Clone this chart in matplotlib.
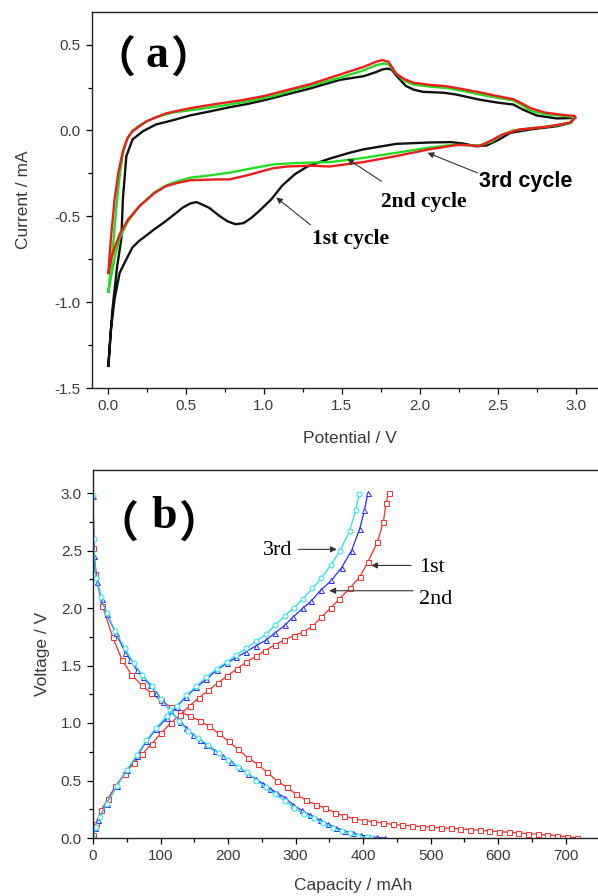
import matplotlib.pyplot as plt
from matplotlib.ticker import MultipleLocator, FormatStrFormatter

plt.rcParams['font.family'] = ['Liberation Sans', 'DejaVu Sans']
plt.rcParams['axes.unicode_minus'] = False

# ---- (a) cyclic voltammetry, closed loops (anodic sweep then cathodic sweep)
cv1_v = [0.005, 0.03, 0.06, 0.088, 0.098, 0.12, 0.16, 0.227, 0.31, 0.42, 0.53, 0.65, 0.78, 0.90,
         1.02, 1.17, 1.30, 1.42, 1.49, 1.64, 1.72, 1.76, 1.79, 1.82, 1.85, 1.91, 1.96, 2.02, 2.15,
         2.23, 2.38, 2.50, 2.60, 2.66, 2.75, 2.88, 2.96, 2.99, 2.97, 2.88, 2.71, 2.58, 2.51, 2.43,
         2.36, 2.28, 2.20, 2.06, 1.85, 1.64, 1.55, 1.42, 1.34, 1.28, 1.20, 1.12, 1.05, 0.97, 0.92,
         0.87, 0.82, 0.77, 0.72, 0.65, 0.57, 0.53, 0.48, 0.44, 0.355, 0.30, 0.25, 0.20, 0.16, 0.109,
         0.077, 0.045, 0.02, 0.005]
cv1_i = [-1.37, -1.05, -0.80, -0.63, -0.40, -0.15, -0.052, -0.004, 0.035, 0.06, 0.088, 0.11, 0.135,
         0.155, 0.18, 0.215, 0.245, 0.277, 0.295, 0.316, 0.34, 0.355, 0.36, 0.355, 0.32, 0.26, 0.238,
         0.225, 0.22, 0.21, 0.18, 0.162, 0.151, 0.122, 0.087, 0.07, 0.072, 0.075, 0.045, 0.025, 0.006,
         -0.014, -0.052, -0.087, -0.092, -0.076, -0.068, -0.07, -0.078, -0.11, -0.13, -0.165, -0.19,
         -0.21, -0.255, -0.32, -0.40, -0.47, -0.51, -0.54, -0.546, -0.53, -0.50, -0.45, -0.417, -0.425,
         -0.45, -0.48, -0.54, -0.575, -0.61, -0.645, -0.68, -0.77, -0.83, -0.98, -1.17, -1.37]

cv2_v = [0.005, 0.02, 0.04, 0.056, 0.075, 0.095, 0.12, 0.16, 0.205, 0.30, 0.42, 0.55, 0.74, 0.90,
         1.06, 1.20, 1.38, 1.50, 1.64, 1.72, 1.77, 1.80, 1.85, 1.90, 1.96, 2.07, 2.17, 2.28, 2.38,
         2.50, 2.60, 2.65, 2.71, 2.80, 2.92, 2.97, 2.99, 2.97, 2.88, 2.71, 2.60, 2.53, 2.46, 2.39,
         2.30, 2.20, 2.06, 1.85, 1.64, 1.42, 1.38, 1.20, 1.06, 0.90, 0.78, 0.65, 0.53, 0.45, 0.375,
         0.30, 0.205, 0.13, 0.08, 0.05, 0.025, 0.005]
cv2_i = [-0.94, -0.80, -0.62, -0.45, -0.28, -0.15, -0.06, 0.0, 0.03, 0.075, 0.105, 0.12, 0.145, 0.17,
         0.20, 0.235, 0.28, 0.31, 0.35, 0.38, 0.39, 0.385, 0.33, 0.29, 0.267, 0.255, 0.248, 0.23, 0.21,
         0.19, 0.175, 0.15, 0.115, 0.095, 0.085, 0.08, 0.07, 0.045, 0.03, 0.012, 0.0, -0.025, -0.065,
         -0.087, -0.085, -0.085, -0.10, -0.13, -0.16, -0.185, -0.185, -0.19, -0.198, -0.225, -0.246,
         -0.262, -0.275, -0.295, -0.32, -0.36, -0.44, -0.53, -0.62, -0.72, -0.84, -0.94]

cv3_v = [0.005, 0.015, 0.024, 0.045, 0.07, 0.098, 0.13, 0.16, 0.25, 0.375, 0.53, 0.70, 0.85, 1.0,
         1.17, 1.30, 1.49, 1.64, 1.72, 1.76, 1.80, 1.85, 1.90, 1.96, 2.07, 2.17, 2.28, 2.38, 2.50,
         2.60, 2.65, 2.71, 2.80, 2.92, 2.99, 3.0, 2.96, 2.81, 2.64, 2.53, 2.45, 2.38, 2.32, 2.25, 2.06,
         1.85, 1.64, 1.42, 1.30, 1.15, 1.06, 0.90, 0.78, 0.70, 0.53, 0.45, 0.375, 0.30, 0.205, 0.13,
         0.08, 0.05, 0.025, 0.005]
cv3_i = [-0.83, -0.70, -0.60, -0.40, -0.24, -0.12, -0.04, -0.005, 0.054, 0.10, 0.13, 0.155, 0.175,
         0.20, 0.24, 0.27, 0.326, 0.37, 0.40, 0.41, 0.40, 0.33, 0.30, 0.278, 0.265, 0.258, 0.24, 0.223,
         0.20, 0.182, 0.16, 0.13, 0.105, 0.09, 0.085, 0.075, 0.045, 0.021, 0.006, -0.023, -0.062,
         -0.091, -0.087, -0.083, -0.11, -0.149, -0.184, -0.21, -0.205, -0.21, -0.22, -0.26, -0.285,
         -0.285, -0.29, -0.305, -0.324, -0.365, -0.44, -0.52, -0.60, -0.67, -0.74, -0.83]

# ---- (b) charge / discharge profiles
d1_cap = [0, 3, 14, 29, 43, 57, 72, 86, 100, 115, 129, 143, 158, 172, 186, 201, 215, 229, 244, 258,
          272, 287, 301, 315, 330, 344, 358, 372, 387, 401, 415, 430, 444, 458, 473, 487, 501, 515,
          530, 544, 558, 573, 587, 601, 616, 630, 644, 659, 673, 687, 702, 716]
d1_v = [2.52, 2.30, 2.02, 1.75, 1.55, 1.42, 1.33, 1.26, 1.20, 1.14, 1.10, 1.06, 1.02, 0.97, 0.91,
        0.84, 0.77, 0.70, 0.64, 0.57, 0.50, 0.44, 0.38, 0.33, 0.29, 0.26, 0.22, 0.19, 0.168, 0.152,
        0.141, 0.129, 0.118, 0.111, 0.104, 0.098, 0.094, 0.089, 0.084, 0.079, 0.073, 0.067, 0.061,
        0.056, 0.050, 0.044, 0.038, 0.032, 0.026, 0.020, 0.012, 0.002]
c1_cap = [0, 4, 12, 22, 33, 47, 60, 73, 87, 101, 115, 129, 143, 157, 171, 185, 199, 213, 227, 241,
          255, 269, 283, 297, 311, 325, 338, 352, 365, 380, 395, 407, 421, 430, 434, 438]
c1_v = [0.03, 0.12, 0.24, 0.34, 0.45, 0.56, 0.65, 0.73, 0.82, 0.91, 1.00, 1.07, 1.15, 1.22, 1.285,
        1.35, 1.41, 1.47, 1.53, 1.58, 1.63, 1.68, 1.72, 1.76, 1.79, 1.84, 1.92, 2.00, 2.08, 2.17,
        2.27, 2.40, 2.57, 2.75, 2.91, 3.0]

d2_cap = [0, 2, 6, 13, 20, 34, 48, 55, 65, 74, 84, 94, 104, 114, 129, 138, 148, 158, 168, 180, 193,
          205, 217, 229, 242, 252, 262, 273, 284, 296, 309, 322, 336, 348, 360, 372, 385, 397, 410,
          421, 432]
d2_v = [2.97, 2.45, 2.23, 2.08, 1.95, 1.78, 1.61, 1.55, 1.46, 1.40, 1.33, 1.26, 1.18, 1.11, 1.01,
        0.96, 0.90, 0.85, 0.81, 0.76, 0.71, 0.66, 0.61, 0.56, 0.51, 0.47, 0.43, 0.39, 0.35, 0.29,
        0.24, 0.20, 0.157, 0.12, 0.09, 0.063, 0.04, 0.025, 0.012, 0.005, 0.0]
c2_cap = [0, 3, 8, 20, 35, 50, 65, 79, 94, 109, 124, 138, 153, 168, 183, 198, 212, 227, 241, 256,
          269, 284, 296, 311, 323, 338, 353, 368, 383, 395, 402, 407]
c2_v = [0.02, 0.09, 0.16, 0.30, 0.45, 0.59, 0.71, 0.84, 0.95, 1.04, 1.14, 1.23, 1.31, 1.38, 1.46,
        1.52, 1.57, 1.62, 1.67, 1.72, 1.78, 1.85, 1.92, 2.00, 2.06, 2.16, 2.24, 2.35, 2.50, 2.69,
        2.85, 3.0]

d3_cap = [0, 1, 4, 12, 20, 33, 47, 60, 73, 87, 100, 114, 127, 141, 155, 171, 186, 200, 214, 228,
          242, 256, 270, 285, 298, 312, 327, 341, 355, 368, 381, 393, 405, 412]
d3_v = [2.98, 2.60, 2.26, 2.10, 1.96, 1.80, 1.65, 1.52, 1.42, 1.32, 1.21, 1.11, 1.02, 0.93, 0.87,
        0.81, 0.74, 0.68, 0.62, 0.57, 0.50, 0.44, 0.38, 0.32, 0.26, 0.21, 0.17, 0.13, 0.09, 0.06,
        0.04, 0.02, 0.005, 0.0]
c3_cap = [0, 4, 10, 20, 35, 50, 65, 79, 94, 109, 124, 138, 153, 168, 183, 198, 212, 227, 241, 256,
          269, 284, 297, 311, 325, 338, 352, 366, 380, 389, 394]
c3_v = [0.0, 0.10, 0.18, 0.30, 0.45, 0.59, 0.72, 0.85, 0.96, 1.06, 1.15, 1.24, 1.32, 1.40, 1.47,
        1.53, 1.59, 1.65, 1.71, 1.77, 1.85, 1.93, 2.00, 2.08, 2.17, 2.26, 2.37, 2.50, 2.67, 2.85,
        2.99]

TICK_C = '#3a3a3a'
CJK = ['Noto Sans CJK SC', 'DejaVu Sans']


def style_axes(ax, xmaj, ymaj, xfmt, yfmt):
    ax.xaxis.set_major_locator(MultipleLocator(xmaj))
    ax.xaxis.set_minor_locator(MultipleLocator(xmaj / 2))
    ax.yaxis.set_major_locator(MultipleLocator(ymaj))
    ax.yaxis.set_minor_locator(MultipleLocator(ymaj / 2))
    ax.xaxis.set_major_formatter(FormatStrFormatter(xfmt))
    ax.yaxis.set_major_formatter(FormatStrFormatter(yfmt))
    ax.tick_params(which='both', direction='out', top=False, right=False,
                   labelsize=11, labelcolor=TICK_C, width=0.9)
    ax.tick_params(which='major', length=4.5)
    ax.tick_params(which='minor', length=3)
    for s in ax.spines.values():
        s.set_linewidth(1.0)
        s.set_color('#222222')


def arrow(ax, xy_from, xy_to, lw=0.8):
    ax.annotate('', xy=xy_to, xytext=xy_from,
                arrowprops=dict(arrowstyle='-|>', color='#333333', lw=lw,
                                mutation_scale=9, shrinkA=0, shrinkB=0))


def panel_tag(ax, letter, x_open, x_letter, x_close, y_mid, y_base):
    ax.text(x_open, y_mid, '（', fontsize=31, fontweight='bold', va='center', ha='left', family=CJK)
    ax.text(x_letter, y_base, letter, fontsize=33, fontweight='bold', va='baseline', ha='left',
            family='Liberation Serif')
    ax.text(x_close, y_mid, '）', fontsize=31, fontweight='bold', va='center', ha='left', family=CJK)


fig = plt.figure(figsize=(5.98, 8.96), dpi=100)

# panel (a)
ax1 = fig.add_axes([92 / 598, 1 - 388 / 896, 515 / 598, 376 / 896])
ax1.plot(cv1_v, cv1_i, color='#111111', lw=1.7)
ax1.plot(cv2_v, cv2_i, color='#22dd22', lw=1.7)
ax1.plot(cv3_v, cv3_i, color='#ee1c1c', lw=1.7)
ax1.set_xlim(-0.1, 3.2)
ax1.set_ylim(-1.5, 0.69)
style_axes(ax1, 0.5, 0.5, '%.1f', '%.1f')
ax1.set_xlabel('Potential / V', fontsize=12.5, color=TICK_C, labelpad=13)
ax1.set_ylabel('Current / mA', fontsize=12.5, color=TICK_C, labelpad=17)

panel_tag(ax1, 'a', -0.095, 0.24, 0.40, 0.42, 0.37)
ax1.text(2.38, -0.30, '3rd cycle', fontsize=15.5, fontweight='bold', va='center', ha='left')
ax1.text(1.75, -0.415, '2nd cycle', fontsize=15.5, fontweight='bold', va='center', ha='left',
         family='Liberation Serif')
ax1.text(1.31, -0.63, '1st cycle', fontsize=15.5, fontweight='bold', va='center', ha='left',
         family='Liberation Serif')
arrow(ax1, (2.37, -0.247), (2.05, -0.13))
arrow(ax1, (1.755, -0.296), (1.535, -0.165))
arrow(ax1, (1.30, -0.55), (1.08, -0.39))

# panel (b)
ax2 = fig.add_axes([93 / 598, 1 - 838 / 896, 520 / 598, 368 / 896])
mk = dict(ms=3.6, mew=0.7, mfc='white', lw=0.9)
ax2.plot(d1_cap, d1_v, color='#ff2a2a', marker='s', **mk)
ax2.plot(c1_cap, c1_v, color='#ff2a2a', marker='s', **mk)
ax2.plot(d2_cap, d2_v, color='#2a2aff', marker='^', **mk)
ax2.plot(c2_cap, c2_v, color='#2a2aff', marker='^', **mk)
ax2.plot(d3_cap, d3_v, color='#1ee3f0', marker='o', **mk)
ax2.plot(c3_cap, c3_v, color='#1ee3f0', marker='o', **mk)
ax2.set_xlim(0, 770)
ax2.set_ylim(0, 3.2)
style_axes(ax2, 100, 0.5, '%d', '%.1f')
ax2.set_xlabel('Capacity / mAh', fontsize=12.5, color=TICK_C, labelpad=11)
ax2.set_ylabel('Voltage / V', fontsize=12.5, color=TICK_C, labelpad=8)

panel_tag(ax2, 'b', 4, 86, 126, 2.73, 2.70)
ax2.text(251, 2.50, '3rd', fontsize=16, va='center', ha='left', family='Liberation Serif')
ax2.text(483, 2.35, '1st', fontsize=16, va='center', ha='left', family='Liberation Serif')
ax2.text(483, 2.07, '2nd', fontsize=16, va='center', ha='left', family='Liberation Serif')
arrow(ax2, (304, 2.51), (361, 2.51))
arrow(ax2, (471, 2.37), (412, 2.37))
arrow(ax2, (474, 2.15), (350, 2.15))

fig.savefig('out.png', dpi=100)
